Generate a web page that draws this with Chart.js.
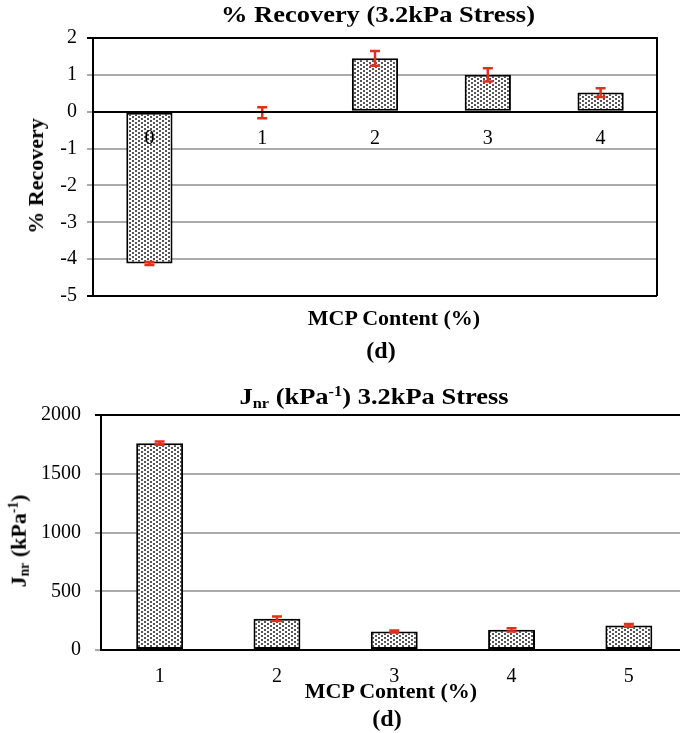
<!DOCTYPE html>
<html>
<head>
<meta charset="utf-8">
<script src="https://cdn.jsdelivr.net/npm/chart.js@4.4.1/dist/chart.umd.min.js"></script>
<style>
  html, body { margin: 0; padding: 0; width: 680px; height: 733px; overflow: hidden; background: #fff; }
  .lbl { position: absolute; font-family: 'Liberation Serif', 'Times New Roman', serif; font-weight: bold;
         color: #000; white-space: nowrap; transform: translate(-50%, -50%); line-height: 1; }
  .wide { transform: translate(-50%, -50%) scaleX(1.15); }
  .rot { transform: translate(-50%, -50%) rotate(-90deg); }
  .sub { font-size: 0.62em; vertical-align: -0.25em; }
  .sup { font-size: 0.62em; vertical-align: 0.55em; }
  canvas { position: absolute; left: 0; }
</style>
</head>
<body>
<canvas id="recovery-chart" width="680" height="318" style="top:0"></canvas>
<canvas id="jnr-chart" width="690" height="311" style="top:389px"></canvas>

<div class="lbl wide" style="left:378px; top:14px; font-size:23px">% Recovery (3.2kPa Stress)</div>
<div class="lbl rot" style="left:36px; top:176px; font-size:22px">% Recovery</div>
<div class="lbl" style="left:394px; top:318px; font-size:22px">MCP Content (%)</div>
<div class="lbl" style="left:381px; top:350px; font-size:24px">(d)</div>

<div class="lbl wide" style="left:374px; top:397px; font-size:23px">J<span class="sub">nr</span> (kPa<span class="sup">-1</span>) 3.2kPa Stress</div>
<div class="lbl rot" style="left:19px; top:541px; font-size:22px">J<span class="sub">nr</span> (kPa<span class="sup">-1</span>)</div>
<div class="lbl" style="left:391px; top:691px; font-size:22px">MCP Content (%)</div>
<div class="lbl" style="left:387px; top:718px; font-size:24px">(d)</div>

<script>
// % Recovery at 3.2 kPa stress
const recoveryCategories = ['0', '1', '2', '3', '4'];
const recoveryValues = [-4.12, -0.03, 1.45, 1.0, 0.52];
const recoveryErrors = [0.04, 0.15, 0.2, 0.18, 0.12];
const recoveryTicks = [-5, -4, -3, -2, -1, 0, 1, 2];

// Jnr at 3.2 kPa stress
const jnrCategories = ['1', '2', '3', '4', '5'];
const jnrValues = [1760, 266, 157, 172, 209];
const jnrErrors = [14, 20, 8, 14, 12];
const jnrTicks = [0, 500, 1000, 1500, 2000];

const FONT = "'Liberation Serif', 'Times New Roman', serif";
const GRID = '#ababab';
const ERR = '#e0301e';

// dotted fill like the Excel pattern
function makeDotPattern() {
  const tile = document.createElement('canvas');
  tile.width = 6;
  tile.height = 4;
  const c = tile.getContext('2d');
  c.fillStyle = '#fbfbfb';
  c.fillRect(0, 0, 6, 4);
  c.fillStyle = '#555';
  c.fillRect(0, 0, 2, 2);
  c.fillRect(3, 2, 2, 2);
  return c.createPattern(tile, 'repeat');
}

// red error bars with caps
const errorBarPlugin = {
  id: 'errorBars',
  afterDatasetsDraw(chart, args, opts) {
    const ctx = chart.ctx;
    const meta = chart.getDatasetMeta(0);
    const y = chart.scales.y;
    const values = chart.data.datasets[0].data;
    ctx.save();
    ctx.strokeStyle = ERR;
    ctx.lineWidth = 2.5;
    meta.data.forEach((bar, i) => {
      const top = y.getPixelForValue(values[i] + opts.errors[i]);
      const bot = y.getPixelForValue(values[i] - opts.errors[i]);
      const x = bar.x;
      const w = opts.cap;
      ctx.beginPath();
      ctx.moveTo(x, top);
      ctx.lineTo(x, bot);
      ctx.moveTo(x - w, top);
      ctx.lineTo(x + w, top);
      ctx.moveTo(x - w, bot);
      ctx.lineTo(x + w, bot);
      ctx.stroke();
    });
    ctx.restore();
  }
};

// black frame round the plot area
const framePlugin = {
  id: 'frame',
  beforeDatasetsDraw(chart, args, opts) {
    const { left, right, top, bottom } = chart.chartArea;
    const ctx = chart.ctx;
    ctx.save();
    ctx.strokeStyle = '#000';
    ctx.lineWidth = 2;
    ctx.beginPath();
    ctx.moveTo(left - opts.tick, top);
    ctx.lineTo(right, top);
    if (opts.right) ctx.lineTo(right, bottom);
    ctx.moveTo(left, top);
    ctx.lineTo(left, bottom);
    if (opts.bottom) {
      ctx.moveTo(left - opts.tick, bottom);
      ctx.lineTo(right, bottom);
    }
    ctx.stroke();
    ctx.restore();
  }
};

function tickFont() {
  return { family: FONT, size: 20 };
}

function initRecoveryChart() {
  const ctx = document.getElementById('recovery-chart').getContext('2d');
  new Chart(ctx, {
    type: 'bar',
    data: {
      labels: recoveryCategories,
      datasets: [{
        data: recoveryValues,
        backgroundColor: makeDotPattern(),
        borderColor: '#000',
        borderWidth: 2,
        borderSkipped: false,
        barPercentage: 0.41,
        categoryPercentage: 1
      }]
    },
    options: {
      responsive: false,
      animation: false,
      layout: { padding: { top: 38, right: 23, bottom: 6, left: 0 } },
      plugins: {
        legend: { display: false },
        tooltip: { enabled: false },
        errorBars: { errors: recoveryErrors, cap: 5 },
        frame: { tick: 6, right: true, bottom: true }
      },
      scales: {
        x: {
          position: { y: 0 },
          grid: { display: false, drawTicks: false },
          border: { display: true, color: '#000', width: 2, z: 1 },
          ticks: { font: tickFont(), color: '#000', padding: 15, z: 1 },
          afterFit: s => { s.height = 0; }
        },
        y: {
          min: recoveryTicks[0],
          max: recoveryTicks[recoveryTicks.length - 1],
          afterBuildTicks: s => { s.ticks = recoveryTicks.map(v => ({ value: v })); },
          grid: { color: GRID, lineWidth: 2, tickLength: 6, tickColor: GRID },
          border: { display: true, color: '#000', width: 2 },
          ticks: { font: tickFont(), color: '#000', padding: 10, callback: v => String(v) },
          afterFit: s => { s.width = 93; }
        }
      }
    },
    plugins: [errorBarPlugin, framePlugin]
  });
}

function initJnrChart() {
  const ctx = document.getElementById('jnr-chart').getContext('2d');
  new Chart(ctx, {
    type: 'bar',
    data: {
      labels: jnrCategories,
      datasets: [{
        data: jnrValues,
        backgroundColor: makeDotPattern(),
        borderColor: '#000',
        borderWidth: 2,
        borderSkipped: false,
        barPercentage: 0.40,
        categoryPercentage: 1
      }]
    },
    options: {
      responsive: false,
      animation: false,
      layout: { padding: { top: 14, right: 2.5, bottom: 0, left: 0 } },
      plugins: {
        legend: { display: false },
        tooltip: { enabled: false },
        errorBars: { errors: jnrErrors, cap: 5 },
        frame: { tick: 6, right: false, bottom: false }
      },
      scales: {
        x: {
          grid: { display: false, drawTicks: false },
          border: { display: true, color: '#000', width: 2 },
          ticks: { font: tickFont(), color: '#000', padding: 15 },
          afterFit: s => { s.height = 50; }
        },
        y: {
          min: jnrTicks[0],
          max: jnrTicks[jnrTicks.length - 1],
          afterBuildTicks: s => { s.ticks = jnrTicks.map(v => ({ value: v })); },
          grid: { color: GRID, lineWidth: 2, tickLength: 6, tickColor: GRID },
          border: { display: true, color: '#000', width: 2 },
          ticks: { font: tickFont(), color: '#000', padding: 14, callback: v => String(v) },
          afterFit: s => { s.width = 101; }
        }
      }
    },
    plugins: [errorBarPlugin, framePlugin]
  });
}

initRecoveryChart();
initJnrChart();
</script>
</body>
</html>
